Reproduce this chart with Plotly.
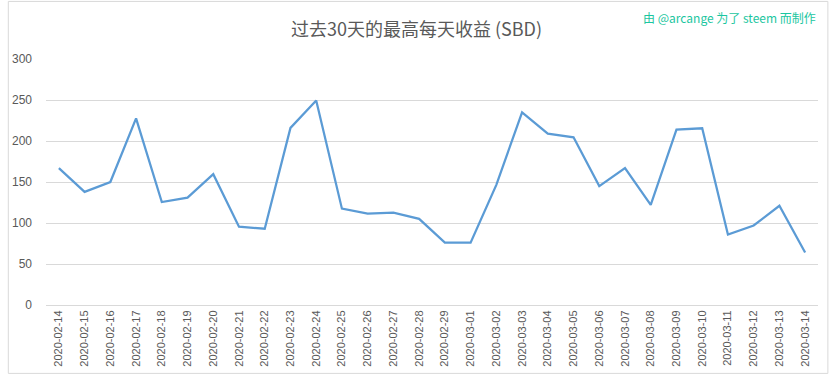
import plotly.graph_objects as go

dates = ["2020-02-14","2020-02-15","2020-02-16","2020-02-17","2020-02-18","2020-02-19","2020-02-20",
         "2020-02-21","2020-02-22","2020-02-23","2020-02-24","2020-02-25","2020-02-26","2020-02-27",
         "2020-02-28","2020-02-29","2020-03-01","2020-03-02","2020-03-03","2020-03-04","2020-03-05",
         "2020-03-06","2020-03-07","2020-03-08","2020-03-09","2020-03-10","2020-03-11","2020-03-12",
         "2020-03-13","2020-03-14"]
values = [167, 138, 150, 227.5, 125.5, 131, 159.5, 95.5, 93, 216, 249.5, 117.5, 111.5, 112.5, 105,
          76, 76, 146.5, 235, 209, 204.5, 145, 167, 122, 214, 215.5, 86, 97, 121, 64]

title_text = "过去30天的最高每天收益 (SBD)"
watermark = "由 @arcange 为了 steem 而制作"

fig = go.Figure()
fig.add_trace(go.Scatter(x=dates, y=values, mode="lines",
                         line=dict(color="#5B9BD5", width=2.25), hoverinfo="x+y"))

fig.update_layout(
    width=833, height=379,
    margin=dict(l=39, r=15, t=59, b=72),
    paper_bgcolor="white", plot_bgcolor="white",
    showlegend=False,
    font=dict(family="Liberation Sans, Arial, sans-serif", color="#595959", size=11),
    title=dict(text=title_text, x=0.5, xanchor="center", y=0.921, yanchor="middle",
               font=dict(family="Noto Sans CJK SC", size=18, color="#595959")),
    annotations=[dict(text=watermark, xref="paper", yref="paper", x=1.0, y=1.0,
                      xanchor="right", yanchor="middle", yshift=42, showarrow=False,
                      font=dict(family="Noto Sans CJK SC", size=12, color="#1BC6A0"))],
    shapes=[dict(type="rect", xref="paper", yref="paper", x0=-0.0488, x1=1.0128, y0=-0.278, y1=1.234,
                 line=dict(color="#D9D9D9", width=1))],
)
fig.update_xaxes(type="category", range=[-0.5, len(dates) - 0.5], tickangle=-90,
                 showgrid=False, showline=True, linecolor="#D9D9D9", linewidth=1,
                 ticks="", tickfont=dict(size=11, color="#595959"), fixedrange=True)
fig.update_yaxes(range=[0, 300], dtick=50, showgrid=True, gridcolor="#D9D9D9", gridwidth=1,
                 zeroline=False, showline=False, ticks="", ticklabelstandoff=13,
                 tickfont=dict(size=12, color="#595959"), fixedrange=True)

fig.write_html("out.html")
